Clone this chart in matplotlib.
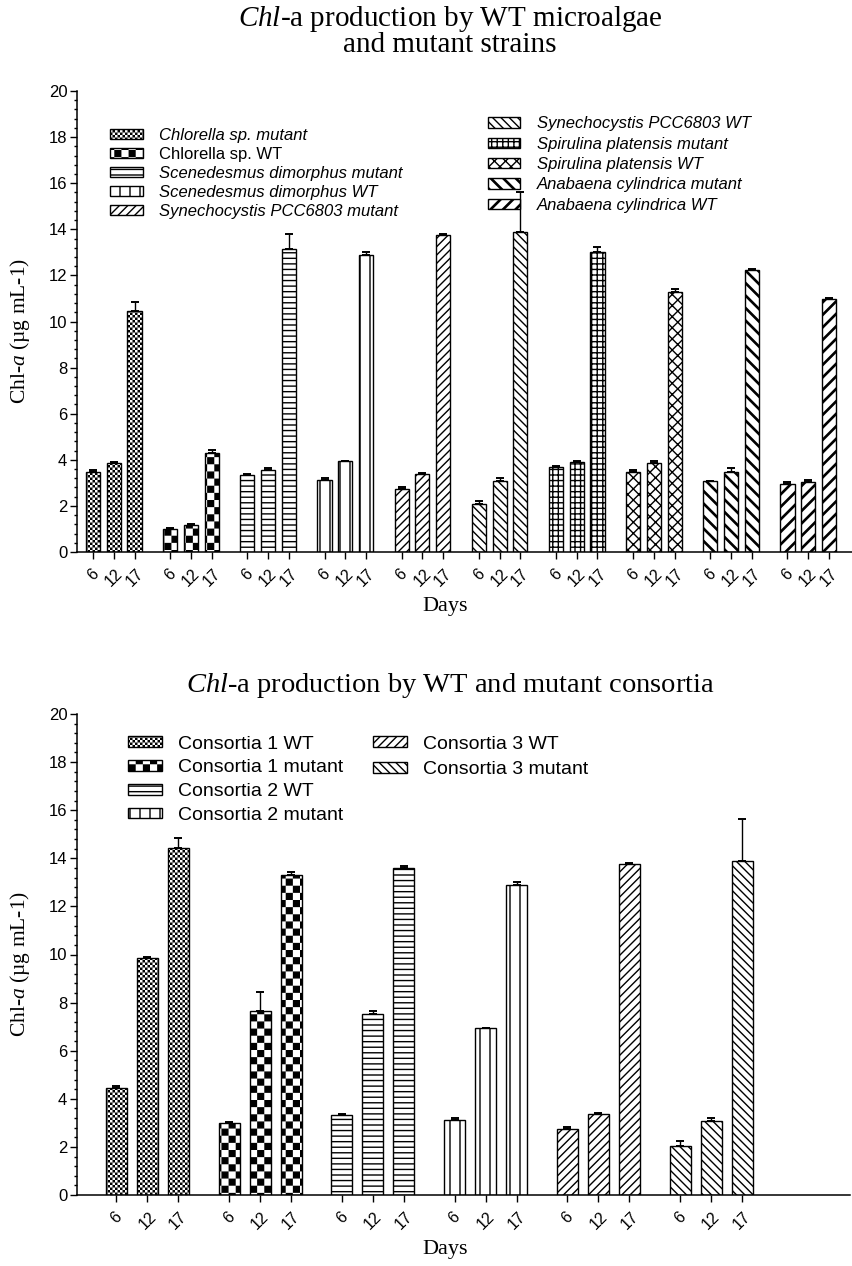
import warnings
import numpy as np
import matplotlib
matplotlib.use("Agg")
import matplotlib.pyplot as plt
import matplotlib.hatch as mhatch
from matplotlib.path import Path
from matplotlib.ticker import AutoMinorLocator, MultipleLocator

warnings.filterwarnings("ignore", category=matplotlib.MatplotlibDeprecationWarning)

# ---- data -------------------------------------------------------------
days = ["6", "12", "17"]

top_groups = ["Chlorella sp. mutant", "Chlorella sp. WT",
              "Scenedesmus dimorphus mutant", "Scenedesmus dimorphus WT",
              "Synechocystis PCC6803 mutant", "Synechocystis PCC6803 WT",
              "Spirulina platensis mutant", "Spirulina platensis WT",
              "Anabaena cylindrica mutant", "Anabaena cylindrica WT"]
top_means = [[3.46, 3.86, 10.46],
             [1.01, 1.16, 4.31],
             [3.34, 3.54, 13.13],
             [3.14, 3.93, 12.88],
             [2.73, 3.40, 13.75],
             [2.07, 3.07, 13.90],
             [3.69, 3.89, 13.03],
             [3.47, 3.85, 11.28],
             [3.08, 3.47, 12.22],
             [2.95, 3.05, 10.96]]
top_err = [[0.11, 0.06, 0.40],
           [0.03, 0.07, 0.13],
           [0.04, 0.12, 0.65],
           [0.07, 0.03, 0.15],
           [0.09, 0.04, 0.06],
           [0.16, 0.15, 1.73],
           [0.06, 0.07, 0.22],
           [0.09, 0.08, 0.13],
           [0.02, 0.17, 0.07],
           [0.09, 0.07, 0.06]]

bot_groups = ["Consortia 1 WT", "Consortia 1 mutant", "Consortia 2 WT",
              "Consortia 2 mutant", "Consortia 3 WT", "Consortia 3 mutant"]
bot_means = [[4.44, 9.84, 14.43],
             [3.01, 7.66, 13.31],
             [3.33, 7.54, 13.61],
             [3.13, 6.93, 12.88],
             [2.73, 3.38, 13.75],
             [2.05, 3.06, 13.90]]
bot_err = [[0.11, 0.06, 0.40],
           [0.02, 0.78, 0.11],
           [0.04, 0.10, 0.06],
           [0.07, 0.03, 0.15],
           [0.09, 0.04, 0.06],
           [0.18, 0.15, 1.75]]

# ---- extra hatch patterns (checkerboards, thick diagonals, wide verticals)
INSET = 0.7 / 100  # half the hatch stroke, in hatch cell units (dpi 100)


class CheckHatch(mhatch.HatchPatternBase):
    def __init__(self, hatch, density):
        self.n = 40 if 'c' in hatch else (14 if 'k' in hatch else 0)
        self.num_vertices = 5 * (self.n * self.n // 2)

    def set_vertices_and_codes(self, vertices, codes):
        n = self.n
        s = 1.0 / n
        k = 0
        for i in range(n):
            for j in range(n):
                if (i + j) % 2:
                    continue
                x0, y0 = i * s + INSET, j * s + INSET
                x1, y1 = (i + 1) * s - INSET, (j + 1) * s - INSET
                vertices[k:k + 5] = [(x0, y0), (x1, y0), (x1, y1), (x0, y1), (x0, y0)]
                codes[k:k + 5] = [Path.MOVETO, Path.LINETO, Path.LINETO,
                                  Path.LINETO, Path.CLOSEPOLY]
                k += 5


class ThickDiagHatch(mhatch.HatchPatternBase):
    def __init__(self, hatch, density):
        self.n = 8
        self.dirs = [d for d, ch in ((1, 'b'), (-1, 'a')) if ch in hatch]
        self.num_vertices = 5 * (2 * self.n + 1) * len(self.dirs)

    def set_vertices_and_codes(self, vertices, codes):
        t = 0.009
        ya, yb = -0.05, 1.05
        k = 0
        for d in self.dirs:
            for m in range(-self.n, self.n + 1):
                c = m / self.n
                if d == 1:
                    xa, xb = c + ya, c + yb
                else:
                    xa, xb = c + 1 - ya, c + 1 - yb
                vertices[k:k + 5] = [(xa - t, ya), (xa + t, ya), (xb + t, yb),
                                     (xb - t, yb), (xa - t, ya)]
                codes[k:k + 5] = [Path.MOVETO, Path.LINETO, Path.LINETO,
                                  Path.LINETO, Path.CLOSEPOLY]
                k += 5


class WideVertHatch(mhatch.HatchPatternBase):
    def __init__(self, hatch, density):
        self.n = 10 if 'v' in hatch else 0
        self.num_vertices = 2 * self.n

    def set_vertices_and_codes(self, vertices, codes):
        x = np.arange(self.n) / self.n
        vertices[0::2, 0] = x
        vertices[0::2, 1] = 0.0
        vertices[1::2, 0] = x
        vertices[1::2, 1] = 1.0
        codes[0::2] = Path.MOVETO
        codes[1::2] = Path.LINETO


mhatch._hatch_types.extend([CheckHatch, ThickDiagHatch, WideVertHatch])

top_hatch = ['c', 'k', '---', 'v', '////', r'\\\\', '+++', 'xxx', 'a', 'b']
bot_hatch = ['c', 'k', '---', 'v', '////', r'\\\\']

# ---- style ------------------------------------------------------------
plt.rcParams['font.family'] = ['Liberation Sans', 'DejaVu Sans']
plt.rcParams['mathtext.fontset'] = 'custom'
plt.rcParams['mathtext.rm'] = 'Liberation Serif'
plt.rcParams['mathtext.it'] = 'Liberation Serif:italic'
plt.rcParams['hatch.linewidth'] = 1.0
serif = ['Liberation Serif', 'DejaVu Serif']

W, H = 852, 1266
fig = plt.figure(figsize=(W / 100, H / 100), dpi=100)
ax1 = fig.add_axes([77 / W, 1 - 552 / H, (852 - 77) / W, (552 - 91) / H])
ax2 = fig.add_axes([77 / W, 1 - 1195 / H, (850 - 77) / W, (1195 - 714) / H])


def draw_panel(ax, groups, means, errs, hatches, gstep, xlim):
    conts = []
    ticks = []
    for g, (name, m, e, h) in enumerate(zip(groups, means, errs, hatches)):
        x = g * gstep + np.arange(len(days))
        ticks.extend(x)
        c = ax.bar(x, m, width=0.68, color='white', edgecolor='black',
                   linewidth=1.0, hatch=h, label=name,
                   yerr=[np.zeros(len(e)), e], capsize=2.6,
                   error_kw=dict(elinewidth=1.0, capthick=1.4, ecolor='black'))
        conts.append(c)
    ax.set_xticks(ticks)
    ax.set_xticklabels(days * len(groups), rotation=45, ha='center',
                       fontsize=11.5)
    ax.set_xlim(*xlim)
    ax.set_ylim(0, 20)
    ax.yaxis.set_major_locator(MultipleLocator(2))
    ax.yaxis.set_minor_locator(AutoMinorLocator(5))
    ax.tick_params(axis='y', which='major', length=5, width=1.0,
                   labelsize=12, pad=2)
    ax.tick_params(axis='y', which='minor', length=2.5, width=1.0)
    ax.tick_params(axis='x', length=5, width=1.0, pad=5)
    for s in ('top', 'right'):
        ax.spines[s].set_visible(False)
    for s in ('left', 'bottom'):
        ax.spines[s].set_linewidth(1.1)
    ax.set_ylabel('Chl-$\\mathit{a}$ (µg mL-1)', fontsize=15.5,
                  family=serif)
    ax.yaxis.set_label_coords(-0.058, 0.48)
    ax.set_xlabel('Days', fontsize=16, family=serif)
    return conts


c1 = draw_panel(ax1, top_groups, top_means, top_err, top_hatch, 3.72,
                (-0.773, 36.59))
ax1.xaxis.set_label_coords(0.475, -0.098)

c2 = draw_panel(ax2, bot_groups, bot_means, bot_err, bot_hatch, 3.64,
                (-1.27, 23.68))
ax2.xaxis.set_label_coords(0.476, -0.094)


def add_legend(ax, conts, names, anchor, fs, spacing, hlen, hh, pad,
               upright=(), italic=True):
    leg = ax.legend([c.patches[0] for c in conts], names, loc='upper left',
                    bbox_to_anchor=anchor, frameon=False, fontsize=fs,
                    labelspacing=spacing, handlelength=hlen, handleheight=hh,
                    handletextpad=pad, borderpad=0, borderaxespad=0)
    for t in leg.get_texts():
        if italic and t.get_text() not in upright:
            t.set_style('italic')
    return leg


leg_a = add_legend(ax1, c1[:5], top_groups[:5], (0.0426, 0.92), 12, 0.24,
                   1.95, 0.6, 1.0, upright=("Chlorella sp. WT",))
ax1.add_artist(leg_a)
add_legend(ax1, c1[5:], top_groups[5:], (0.530, 0.945), 12, 0.32,
           1.95, 0.6, 1.0)

leg_b = add_legend(ax2, c2[:4], bot_groups[:4], (0.066, 0.955), 14, 0.35,
                   1.75, 0.45, 0.8, italic=False)
ax2.add_artist(leg_b)
add_legend(ax2, c2[4:], bot_groups[4:], (0.383, 0.955), 14, 0.45,
           1.75, 0.45, 0.8, italic=False)

fig.text(450 / W, 1 - 31 / H,
         '$\\mathit{Chl}$-a production by WT microalgae\nand mutant strains',
         ha='center', va='center', fontsize=21, family=serif,
         linespacing=0.95)
fig.text(450 / W, 1 - 685 / H,
         '$\\mathit{Chl}$-a production by WT and mutant consortia',
         ha='center', va='center', fontsize=20.5, family=serif)

fig.savefig('out.png', dpi=100)
